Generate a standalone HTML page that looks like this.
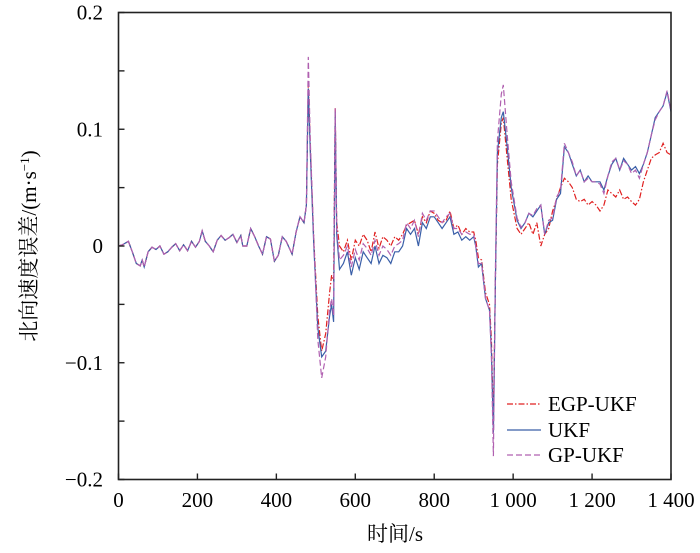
<!DOCTYPE html>
<html><head><meta charset="utf-8"><style>
body{margin:0;background:#fff;}
svg{display:block;font-family:"Liberation Serif","Noto Serif CJK SC",serif;}
</style></head><body>
<svg id="chart" width="700" height="553" viewBox="0 0 700 553">
<g id="grid"></g>
<g id="series"></g>
<rect x="118.5" y="12.5" width="552.5" height="467" fill="none" stroke="#222" stroke-width="1.6"/>
<g id="axes"></g>
<text x="395" y="541" text-anchor="middle" font-size="21" font-family="Liberation Serif, Noto Serif CJK SC, serif">时间/s</text>
<text transform="translate(36,246) rotate(-90)" text-anchor="middle" font-size="21" font-family="Liberation Serif, Noto Serif CJK SC, serif">北向速度误差/(m·s<tspan baseline-shift="super" font-size="13">−1</tspan>)</text>
<g>
<line x1="507" y1="404" x2="541" y2="404" stroke="#e02020" stroke-width="1.2" stroke-dasharray="6,2,1.5,2"/>
<text x="548" y="411" font-size="21">EGP-UKF</text>
<line x1="507" y1="430" x2="541" y2="430" stroke="#3a5fa8" stroke-width="1.2"/>
<text x="548" y="437" font-size="21">UKF</text>
<line x1="507" y1="455" x2="541" y2="455" stroke="#b060b0" stroke-width="1.2" stroke-dasharray="6,3"/>
<text x="548" y="462" font-size="21">GP-UKF</text>
</g>
</svg>
<script>
const times = [0,10,25,35,45,55,60,65,75,85,95,105,115,125,135,145,155,165,175,185,195,205,212,220,230,240,250,260,270,280,290,300,310,315,325,335,345,355,365,375,385,395,405,415,425,440,450,460,470,476,
481,486,495,505,515,525,535,540,545,549,553,
560,570,580,590,600,610,620,630,640,650,660,670,680,690,700,710,720,730,740,750,760,770,780,790,800,810,820,830,840,850,860,870,880,890,900,
905,912,920,930,940,945,950,955,960,970,975,985,995,
1010,1020,1030,1040,1050,1060,1070,1080,1090,1100,1110,1120,1130,1140,1150,1160,1170,1180,1190,1200,1210,1220,1230,1240,1250,1260,1270,1280,1290,1300,1310,1320,1330,1340,1350,1360,1370,1380,1390,1400];
const ukf = [0,1,4,-5,-15,-17,-12,-18,-5,-1,-3,0,-7,-5,-1,2,-4,1,-4,4,-1,4,13,4,0,-5,5,9,5,7,10,3,9,0,0,15,8,0,-7,8,6,-13,-8,8,4,-7,12,25,20,35,
135,80,0,-70,-95,-90,-60,-50,-65,115,10,
-20,-15,-5,-25,-10,-20,-5,-10,-15,0,-15,-8,-10,-15,-5,-5,0,15,10,15,0,20,15,25,25,20,15,20,25,10,12,5,8,5,8,
0,-18,-15,-45,-55,-90,-160,-30,80,110,115,85,50,
22,15,20,28,25,30,35,10,20,22,40,45,85,80,70,60,65,55,60,55,55,55,48,60,70,75,65,75,70,65,68,62,70,80,95,110,115,120,132,115];
const gpukf = [0,1,4,-5,-15,-17,-12,-18,-5,-1,-3,0,-7,-5,-1,2,-4,1,-4,4,-1,4,13,4,0,-5,5,9,5,7,10,3,9,0,0,15,8,0,-7,8,6,-13,-8,8,4,-7,12,25,20,35,
162,90,5,-80,-113,-95,-55,-45,-60,118,15,
-12,-8,0,-18,-3,-12,2,-2,-8,5,-8,0,-3,-8,0,2,5,20,15,22,8,28,22,30,30,25,20,25,28,15,15,10,12,10,10,
0,-15,-15,-45,-55,-95,-180,-20,90,130,138,95,55,
24,16,20,28,26,32,35,10,22,24,42,48,88,80,72,60,65,55,58,55,55,53,45,60,72,75,65,73,70,62,65,58,70,80,95,108,115,120,133,116];
const egpukf = [0,1,4,-5,-15,-17,-12,-18,-5,-1,-3,0,-7,-5,-1,2,-4,1,-4,4,-1,4,13,4,0,-5,5,9,5,7,10,3,9,0,0,15,8,0,-7,8,6,-13,-8,8,4,-7,12,25,20,35,
140,85,5,-60,-90,-75,-40,-25,-30,118,20,
0,-5,5,-12,5,0,10,5,-5,12,-2,8,5,0,8,5,10,18,20,22,10,25,20,30,28,22,20,22,30,15,18,10,15,12,12,
5,-10,-12,-40,-50,-80,-150,-30,70,105,110,75,40,
15,10,15,20,10,20,0,10,15,30,40,50,58,55,50,40,38,40,35,38,35,30,35,48,45,42,48,40,42,38,35,40,55,65,75,78,80,88,80,78];
const xTicks = [0,200,400,600,800,1000,1200,1400];
const xTickLabels = ["0","200","400","600","800","1 000","1 200","1 400"];
const yTicks = [0.2,0.15,0.1,0.05,0,-0.05,-0.1,-0.15,-0.2];
const yLabelVals = [0.2,0.1,0,-0.1,-0.2];
const yLabels = ["0.2","0.1","0","\u22120.1","\u22120.2"];

const X0=118.5, X1=671, Y0=479.5, Y1=12.5;
const xs = t => X0 + (t/1400)*(X1-X0);
const ys = v => Y0 - ((v+0.2)/0.4)*(Y0-Y1);
const NS="http://www.w3.org/2000/svg";
const axes=document.getElementById('axes'), ser=document.getElementById('series');

xTicks.forEach((t,i)=>{
  const l=document.createElementNS(NS,'line');
  l.setAttribute('x1',xs(t));l.setAttribute('x2',xs(t));l.setAttribute('y1',Y0);l.setAttribute('y2',Y0-6);
  l.setAttribute('stroke','#222');l.setAttribute('stroke-width','1.4');
  
  
  axes.appendChild(l);
  const tx=document.createElementNS(NS,'text');
  tx.setAttribute('x',xs(t));tx.setAttribute('y',507);tx.setAttribute('text-anchor','middle');tx.setAttribute('font-size','21');
  tx.textContent=xTickLabels[i];
  
  
  axes.appendChild(tx);
});
yTicks.forEach(v=>{
  const l=document.createElementNS(NS,'line');
  l.setAttribute('x1',X0);l.setAttribute('x2',X0+6);l.setAttribute('y1',ys(v));l.setAttribute('y2',ys(v));
  l.setAttribute('stroke','#222');l.setAttribute('stroke-width','1.4');
  
  
  axes.appendChild(l);
});
yLabelVals.forEach((v,i)=>{
  const tx=document.createElementNS(NS,'text');
  tx.setAttribute('x',103);tx.setAttribute('y',ys(v)+7);tx.setAttribute('text-anchor','end');tx.setAttribute('font-size','21');
  tx.textContent=yLabels[i];
  
  
  axes.appendChild(tx);
});
function draw(vals,color,dash,name){
  const n=Math.min(times.length,vals.length);
  let d='';
  for(let i=0;i<n;i++) d+=(i?'L':'M')+xs(times[i]).toFixed(1)+','+ys(vals[i]/1000).toFixed(1);
  const p=document.createElementNS(NS,'path');
  p.setAttribute('d',d);p.setAttribute('fill','none');p.setAttribute('stroke',color);p.setAttribute('stroke-width','1.2');
  if(dash)p.setAttribute('stroke-dasharray',dash);
  
  
  ser.appendChild(p);
}
draw(egpukf,'#e02020','6,2,1.5,2','series-egp-ukf');
draw(ukf,'#3a5fa8',null,'series-ukf');
draw(gpukf,'#b060b0','6,3','series-gp-ukf');
</script>
</body></html>
